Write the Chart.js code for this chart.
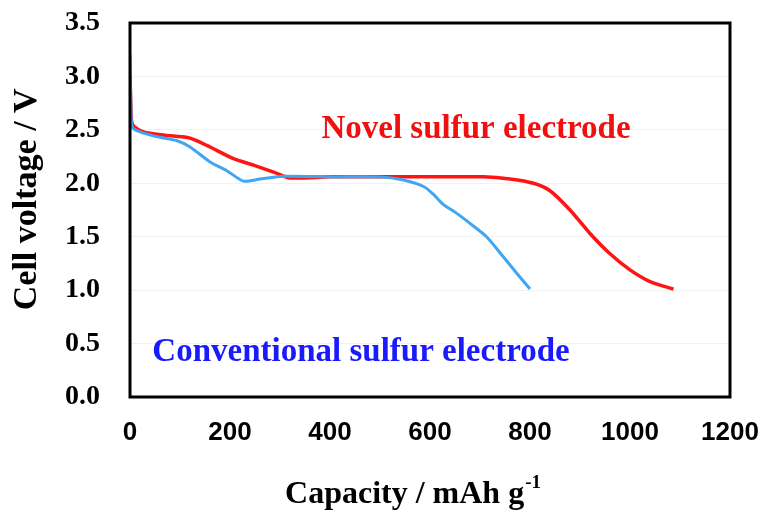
<!DOCTYPE html>
<html>
<head>
<meta charset="utf-8">
<script src="https://cdn.jsdelivr.net/npm/chart.js@4.4.1/dist/chart.umd.min.js"></script>
<style>
  html, body { margin: 0; padding: 0; background: #fff; }
  #wrap { width: 766px; height: 510px; }
</style>
</head>
<body>
<div id="wrap"><canvas id="myChart" width="766" height="510"></canvas></div>
<script>
// Conventional sulfur electrode (blue)
const convCapacity = [0, 2, 5, 27, 60, 93, 120, 160, 193, 227, 260, 307, 400, 500, 547, 587, 606, 627, 650, 673, 713, 747, 773, 800];
const convVoltage  = [3.2, 2.7, 2.52, 2.47, 2.43, 2.40, 2.34, 2.20, 2.12, 2.02, 2.04, 2.065, 2.06, 2.06, 2.03, 1.97, 1.90, 1.80, 1.73, 1.65, 1.50, 1.31, 1.16, 1.01];

// Novel sulfur electrode (red)
const novelCapacity = [0, 2, 5, 27, 70, 113, 133, 160, 207, 247, 290, 320, 400, 600, 707, 760, 807, 840, 880, 920, 960, 1000, 1040, 1087];
const novelVoltage  = [3.0, 2.7, 2.55, 2.48, 2.45, 2.43, 2.40, 2.34, 2.23, 2.17, 2.10, 2.05, 2.06, 2.06, 2.06, 2.04, 2.00, 1.93, 1.75, 1.53, 1.34, 1.19, 1.08, 1.01];

const xTicks = [0, 200, 400, 600, 800, 1000, 1200];
const yTicks = [0.0, 0.5, 1.0, 1.5, 2.0, 2.5, 3.0, 3.5];

const toPoints = (xs, ys) => xs.map((x, i) => ({ x: x, y: ys[i] }));

// draws frame, series labels and both axis titles (x one with superscript)
const decorPlugin = {
  id: 'decor',
  afterDraw(chart) {
    const ctx = chart.ctx;
    const a = chart.chartArea;
    const xs = chart.scales.x, ys = chart.scales.y;
    ctx.save();
    ctx.strokeStyle = '#000';
    ctx.lineWidth = 3;
    ctx.strokeRect(a.left, a.top, a.right - a.left, a.bottom - a.top);

    ctx.textAlign = 'center';
    ctx.textBaseline = 'middle';
    ctx.font = 'bold 33px "Liberation Serif", serif';
    ctx.fillStyle = '#f01010';
    ctx.fillText('Novel sulfur electrode', xs.getPixelForValue(692), ys.getPixelForValue(2.50));
    ctx.fillStyle = '#1a1aff';
    ctx.fillText('Conventional sulfur electrode', xs.getPixelForValue(462), ys.getPixelForValue(0.42));

    // y axis title
    ctx.fillStyle = '#000';
    ctx.save();
    ctx.translate(27, ys.getPixelForValue(1.85));
    ctx.rotate(-Math.PI / 2);
    ctx.font = 'bold 34px "Liberation Serif", serif';
    ctx.fillText('Cell voltage / V', 0, 0);
    ctx.restore();

    // x axis title
    const main = 'Capacity / mAh g';
    const sup = '-1';
    ctx.font = 'bold 32px "Liberation Serif", serif';
    const w1 = ctx.measureText(main).width;
    ctx.font = 'bold 19px "Liberation Serif", serif';
    const w2 = ctx.measureText(sup).width;
    const cx = xs.getPixelForValue(565);
    const startX = cx - (w1 + w2) / 2;
    ctx.textAlign = 'left';
    ctx.textBaseline = 'alphabetic';
    ctx.font = 'bold 32px "Liberation Serif", serif';
    ctx.fillText(main, startX, 503);
    ctx.font = 'bold 19px "Liberation Serif", serif';
    ctx.fillText(sup, startX + w1 + 1, 488);
    ctx.restore();
  }
};

const ctx = document.getElementById('myChart').getContext('2d');
new Chart(ctx, {
  type: 'line',
  data: {
    datasets: [
      {
        label: 'Conventional sulfur electrode',
        data: toPoints(convCapacity, convVoltage),
        borderColor: '#3ea6f5',
        borderWidth: 3,
        pointRadius: 0,
        tension: 0.25,
        fill: false
      },
      {
        label: 'Novel sulfur electrode',
        data: toPoints(novelCapacity, novelVoltage),
        borderColor: '#ff1414',
        borderWidth: 3.5,
        pointRadius: 0,
        tension: 0.25,
        fill: false
      }
    ]
  },
  options: {
    responsive: false,
    animation: false,
    layout: { padding: { top: 23, right: 36, left: 0, bottom: 0 } },
    plugins: {
      legend: { display: false },
      tooltip: { enabled: false }
    },
    scales: {
      x: {
        type: 'linear',
        min: 0,
        max: 1200,
        afterBuildTicks: (s) => { s.ticks = xTicks.map(v => ({ value: v })); },
        afterFit: (s) => { s.height = 113; },
        grid: { display: true, drawOnChartArea: false, drawTicks: true, tickLength: 18, tickColor: 'rgba(0,0,0,0)' },
        border: { display: false },
        ticks: {
          padding: 2,
          color: '#000',
          font: { family: '"Liberation Sans", Arial, sans-serif', size: 26, weight: 'bold' },
          callback: (v) => String(v)
        }
      },
      y: {
        type: 'linear',
        min: 0,
        max: 3.5,
        afterBuildTicks: (s) => { s.ticks = yTicks.map(v => ({ value: v })); },
        afterFit: (s) => { s.width = 130; },
        grid: { color: '#f2f2f2', drawTicks: true, tickLength: 28, tickColor: 'rgba(0,0,0,0)' },
        border: { display: false },
        ticks: {
          padding: 2,
          color: '#000',
          font: { family: '"Liberation Serif", serif', size: 28, weight: 'bold' },
          callback: (v) => Number(v).toFixed(1)
        }
      }
    }
  },
  plugins: [decorPlugin]
});
</script>
</body>
</html>
